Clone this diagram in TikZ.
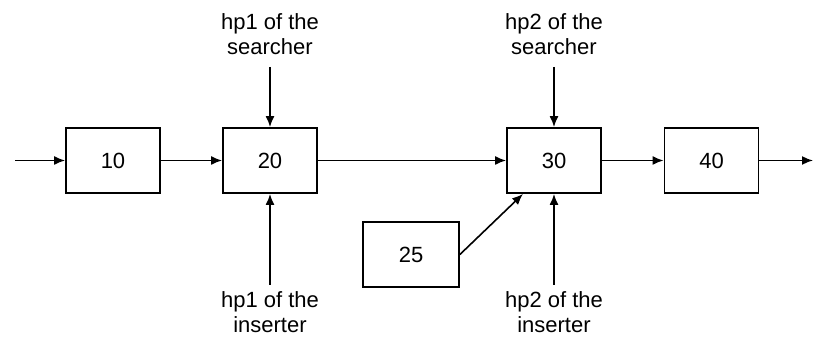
\documentclass[tikz,border=0pt]{standalone}
\usepackage{fontspec}
\setmainfont{Liberation Sans}
\usetikzlibrary{arrows.meta}

\tikzset{
  blk/.style={draw, line width=0.9pt, minimum width=47pt, minimum height=32.5pt,
    inner sep=0pt, font=\fontsize{11}{12.5}\selectfont},
  lbl/.style={align=center, inner sep=0pt, font=\fontsize{11}{12.5}\selectfont},
  arr/.style={-{Latex[length=5.5pt,width=4.5pt]}, line width=0.8pt}
}

\begin{document}
\begin{tikzpicture}[x=0.5pt,y=-0.5pt]
  \useasboundingbox (0,0) rectangle (814,341);

  % the chain of blocks
  \node[blk] (b10) at (113,160.5) {10};
  \node[blk] (b20) at (270,160.5) {20};
  \node[blk] (b30) at (554,160.5) {30};
  \node[blk] (b40) at (711.5,160.5) {40};
  \node[blk, minimum width=48pt] (b25) at (411,254.5) {25};

  % free ends of the main line
  \coordinate (in) at (15,160.5);
  \coordinate (out) at (813,160.5);

  % hint pointers, above and below
  \node[lbl, anchor=south] (s1) at (270,55) {hp1 of the\\searcher};
  \node[lbl, anchor=south] (s2) at (554,55) {hp2 of the\\searcher};
  \node[lbl, anchor=north] (i1) at (270,291) {hp1 of the\\inserter};
  \node[lbl, anchor=north] (i2) at (554,291) {hp2 of the\\inserter};

  \draw[arr] (in) -- (b10);
  \draw[arr] (b10) -- (b20);
  \draw[arr] (b20) -- (b30);
  \draw[arr] (b30) -- (b40);
  \draw[arr] (b40) -- (out);

  \draw[arr] ([yshift=-6pt]s1.south) -- (b20.north);
  \draw[arr] ([yshift=-6pt]s2.south) -- (b30.north);
  \draw[arr] ([yshift=3pt]i1.north) -- (b20.south);
  \draw[arr] ([yshift=3pt]i2.north) -- (b30.south);

  \draw[arr] (b25.east) -- ([xshift=-15.5pt]b30.south);
\end{tikzpicture}
\end{document}
